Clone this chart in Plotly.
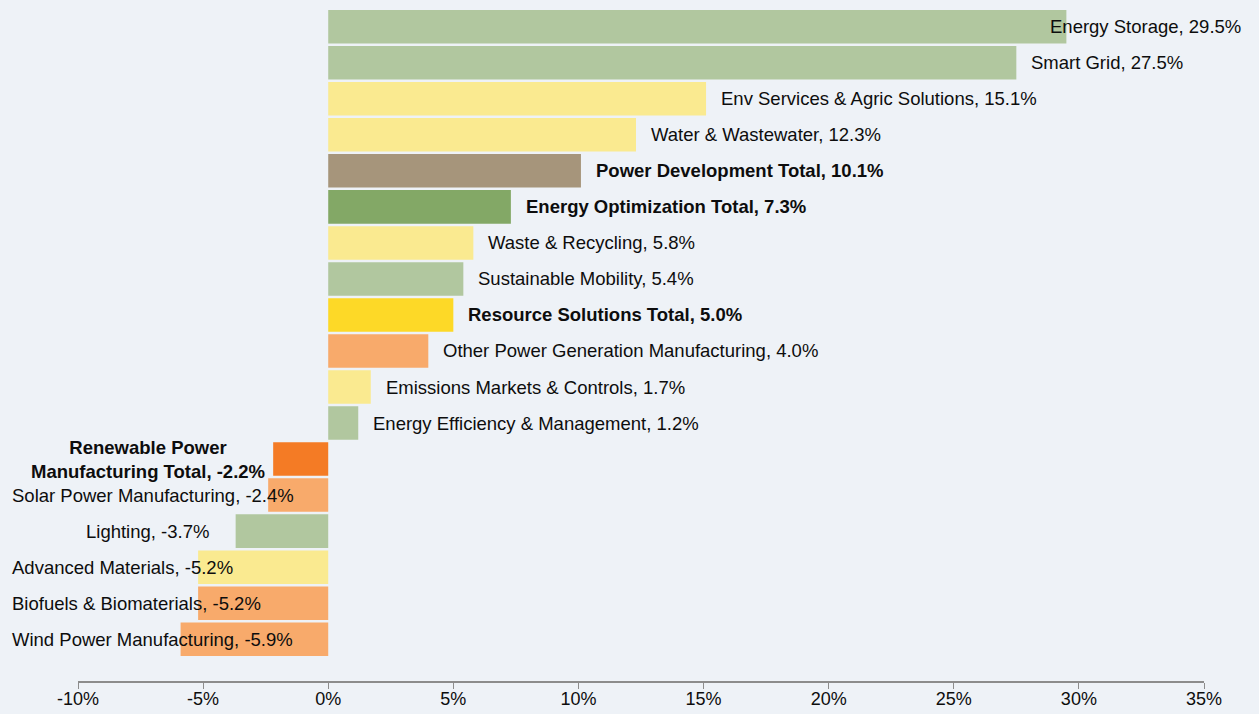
import plotly.graph_objects as go

# segments, top to bottom
labels = ["Energy Storage", "Smart Grid", "Env Services & Agric Solutions", "Water & Wastewater",
          "Power Development Total", "Energy Optimization Total", "Waste & Recycling",
          "Sustainable Mobility", "Resource Solutions Total", "Other Power Generation Manufacturing",
          "Emissions Markets & Controls", "Energy Efficiency & Management",
          "Renewable Power<br>Manufacturing Total", "Solar Power Manufacturing", "Lighting",
          "Advanced Materials", "Biofuels & Biomaterials", "Wind Power Manufacturing"]
values = [29.5, 27.5, 15.1, 12.3, 10.1, 7.3, 5.8, 5.4, 5.0, 4.0, 1.7, 1.2,
          -2.2, -2.4, -3.7, -5.2, -5.2, -5.9]
groups = ["opt", "opt", "res", "res", "pow", "opt_t", "res", "opt", "res_t", "ren", "res", "opt",
          "ren_t", "ren", "opt", "res", "ren", "ren"]
is_total = [False, False, False, False, True, True, False, False, True, False, False, False,
            True, False, False, False, False, False]

tick_vals = [-10, -5, 0, 5, 10, 15, 20, 25, 30, 35]
tick_text = ["-10%", "-5%", "0%", "5%", "10%", "15%", "20%", "25%", "30%", "35%"]

colors = {"opt": "#B1C79F", "opt_t": "#83A866", "res": "#FAEA90", "res_t": "#FDD927",
          "pow": "#A6957B", "ren": "#F8AA6B", "ren_t": "#F47B25"}

ypos = list(range(len(values)))
fig = go.Figure()
fig.add_trace(go.Bar(x=values, y=ypos, orientation="h",
                     marker=dict(color=[colors[g] for g in groups], line=dict(width=0)),
                     width=0.93, hoverinfo="skip"))

px_per = 1126 / 45.0
char_w = 9.1
for i, (lab, v, tot) in enumerate(zip(labels, values, is_total)):
    txt = f"{lab}, {v:.1f}%"
    if tot:
        txt = f"<b>{txt}</b>"
    a = dict(x=v, y=i, text=txt, showarrow=False, font=dict(size=18.5, color="#0D0D0D"),
             yanchor="middle", align="center")
    if v >= 0:
        a.update(xanchor="left", xshift=13)
        # keep inside the right edge
        est = len(lab + ", 00.0%") * char_w
        if 328 + v * px_per + 13 + est > 1245:
            a.update(x=1.035, xref="paper", xanchor="right", xshift=0)
    else:
        a.update(xanchor="right", xshift=-6 if tot else -25)
        est = len(lab + ", -0.0%") * char_w
        if not tot and 328 + v * px_per - 25 - est < 8:
            a.update(x=-0.06, xref="paper", xanchor="left", xshift=0)
    fig.add_annotation(**a)

fig.update_layout(
    width=1259, height=714,
    margin=dict(l=78, r=55, t=8, b=33),
    paper_bgcolor="#EEF2F7", plot_bgcolor="#EEF2F7",
    font=dict(family="Arial, Liberation Sans, sans-serif", size=18, color="#0D0D0D"),
    showlegend=False, bargap=0.07,
)
fig.update_xaxes(range=[-10, 35], tickvals=tick_vals, ticktext=tick_text, showgrid=False,
                 zeroline=False, showline=True, linecolor="#8C8C8C", linewidth=2,
                 ticks="outside", ticklen=6, tickcolor="#8C8C8C", tickwidth=1,
                 tickfont=dict(size=18), ticklabelstandoff=-6, automargin=False)
fig.update_yaxes(range=[18.16, -0.52], showticklabels=False, showgrid=False, zeroline=False,
                 automargin=False)

fig.write_html("out.html", config={"displayModeBar": False},
               post_script="document.body.style.margin='0';document.body.style.background='#EEF2F7';")
